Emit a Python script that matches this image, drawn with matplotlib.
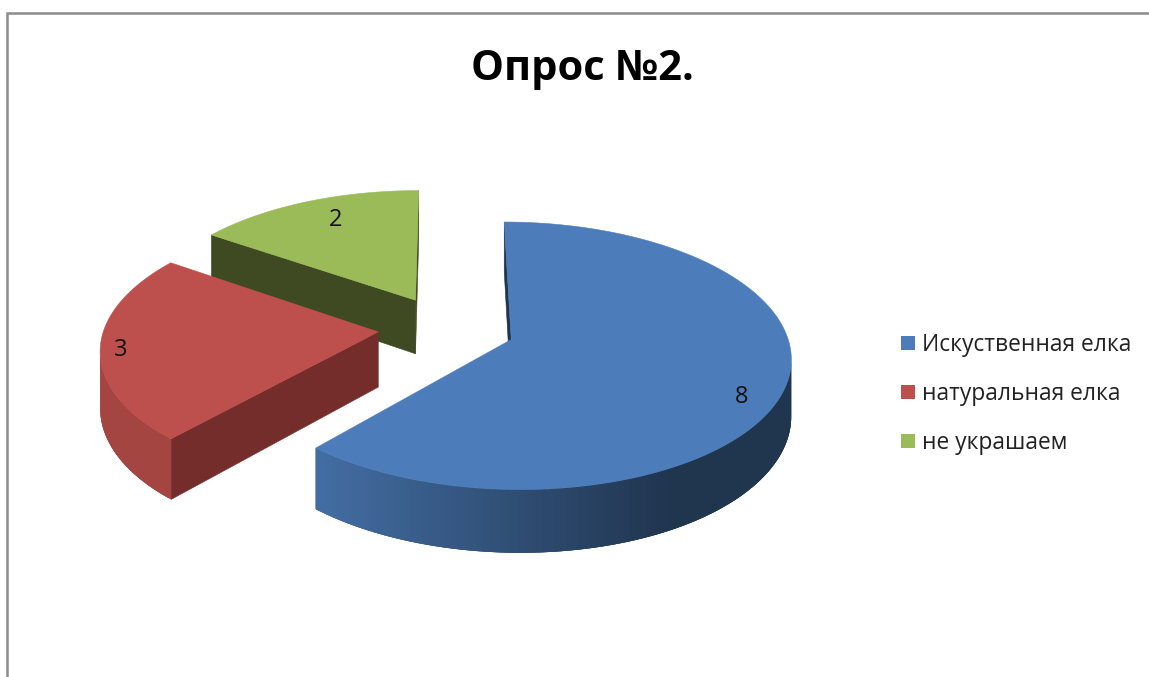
import numpy as np
import matplotlib
matplotlib.use('Agg')
import matplotlib.pyplot as plt
from matplotlib.patches import Polygon, Patch

# data
categories = ['Искуственная елка', 'натуральная елка', 'не украшаем']
values = [8, 3, 2]
title = 'Опрос №2.'

# slice colours (top face, inner faces)
top_colors = ['#4c7dba', '#bd4f4c', '#9bbb59']
inner_colors = ['#1f3450', '#752d2c', '#3f4a22']

# pie geometry in pixels
CX, CY = 446.5, 328
RX, RY = 274, 129
KP = 0.12      # perspective
DEPTH = 55
EXPLODE = 0.25

# where the value labels sit
label_pos = [(742, 397), (121, 350), (336, 220)]


def project(X, Y, z=0.0):
    w = 1 - KP * Y
    return CX + RX * X / w, CY + (RY * Y + DEPTH * z) / w


def shade(color, f):
    return tuple(c * f for c in matplotlib.colors.to_rgb(color))


fig = plt.figure(figsize=(11.49, 6.77), dpi=100)
ax = fig.add_axes([0, 0, 1, 1])
ax.set_xlim(0, 1149)
ax.set_ylim(677, 0)
ax.axis('off')

# outer frame, only top and left are in the crop
ax.plot([7, 7, 1149], [677, 13, 13], color='#8c8c8c', lw=1.8, solid_joinstyle='miter')

angles = np.concatenate([[0], np.cumsum(values)]) / sum(values) * 2 * np.pi

# back slices first
for i in [2, 1, 0]:
    a0, a1 = angles[i], angles[i + 1]
    mid = (a0 + a1) / 2
    ox, oy = EXPLODE * np.sin(mid), -EXPLODE * np.cos(mid)
    th = np.linspace(a0, a1, 200)
    rim_x = ox + np.sin(th)
    rim_y = oy - np.cos(th)

    # inner faces, apex -> start corner and end corner -> apex
    edges = [((ox, oy), (rim_x[0], rim_y[0])), ((rim_x[-1], rim_y[-1]), (ox, oy))]
    for p, q in edges:
        if project(*q)[0] - project(*p)[0] < 0:
            quad = [project(*p), project(*q), project(*q, 1), project(*p, 1)]
            ax.add_patch(Polygon(quad, fc=inner_colors[i], ec=inner_colors[i], lw=0.4, zorder=2 + (2 - i) * 3))

    # outer rim in overlapping strips so it can get the gradient without seams
    for j in range(len(th) - 1):
        p = (rim_x[j], rim_y[j])
        k = min(j + 3, len(th) - 1)
        q = (rim_x[k], rim_y[k])
        if project(rim_x[j + 1], rim_y[j + 1])[0] - project(*p)[0] >= 0:
            continue
        f = np.clip(0.62 - 0.4 * np.sin(th[j]), 0.42, 0.87)
        quad = [project(*p), project(*q), project(*q, 1), project(*p, 1)]
        ax.add_patch(Polygon(quad, fc=shade(top_colors[i], f), ec='none', zorder=3 + (2 - i) * 3))

    # top face
    top = [project(ox, oy)] + [project(x, y) for x, y in zip(rim_x, rim_y)]
    ax.add_patch(Polygon(top, fc=top_colors[i], ec=top_colors[i], lw=0.4, zorder=4 + (2 - i) * 3))

    ax.text(label_pos[i][0], label_pos[i][1], str(values[i]), ha='center', va='center',
            fontsize=17, family='Open Sans', color='#111111', zorder=20)

ax.text(582, 69, title, ha='center', va='center', fontsize=30, fontweight='bold',
        family='Open Sans', color='black', zorder=20)

handles = [Patch(fc=c, ec='none') for c in top_colors]
ax.legend(handles, categories, loc='center left', bbox_to_anchor=(901 / 1149, 1 - 394 / 677),
          frameon=False, handlelength=0.62, handleheight=0.62,
          handletextpad=0.3, labelspacing=1.1, borderpad=0, borderaxespad=0,
          prop={'family': 'Open Sans', 'size': 16.4}, labelcolor='#222222')

fig.savefig('out.png', dpi=100)
